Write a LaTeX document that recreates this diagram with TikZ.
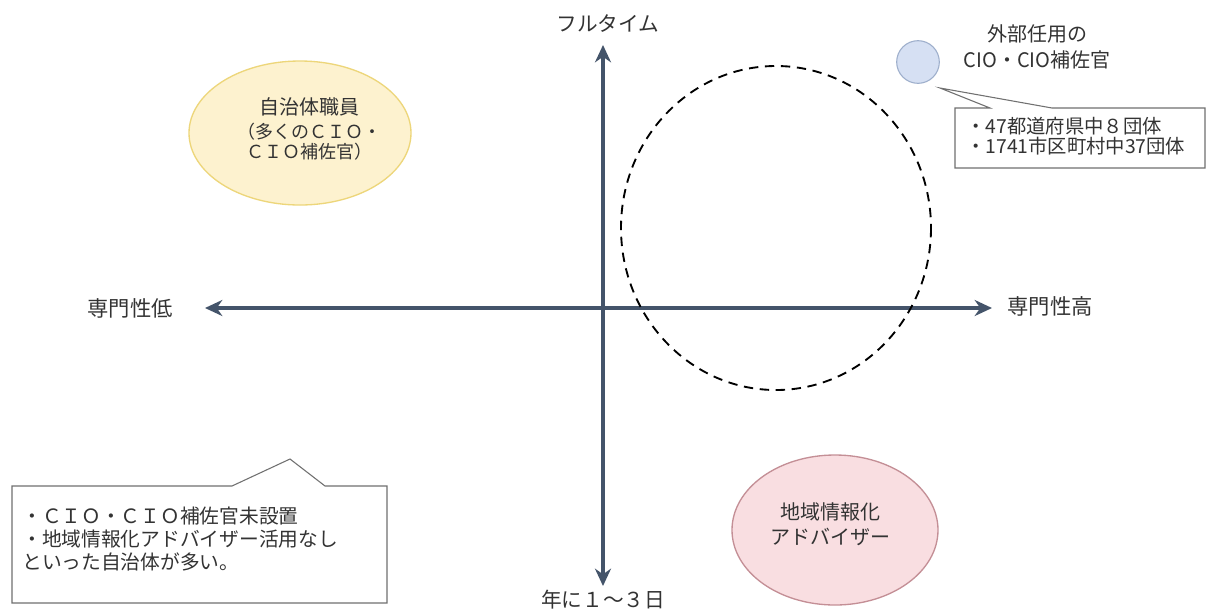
\documentclass[tikz,border=0pt]{standalone}
\usepackage{fontspec}
\setmainfont{Noto Sans CJK JP}
\usetikzlibrary{arrows.meta}
\definecolor{axis}{HTML}{44546A}
\definecolor{txt}{HTML}{333333}
\definecolor{yfill}{HTML}{FDF2CF}
\definecolor{ydraw}{HTML}{EDD67A}
\definecolor{pfill}{HTML}{F9DEE1}
\definecolor{pdraw}{HTML}{C48F96}
\definecolor{bfill}{HTML}{D6E0F3}
\definecolor{bdraw}{HTML}{9DAECB}
\definecolor{boxdraw}{HTML}{707070}
\tikzset{
  axisline/.style={draw=axis, line width=2.6pt, {Stealth[length=13pt,width=12pt]}-{Stealth[length=13pt,width=12pt]}},
  lbl/.style={text=txt, font=\fontsize{15.5pt}{18pt}\selectfont, inner sep=0pt},
  boxtxt/.style={text=txt, font=\fontsize{14.8pt}{17pt}\selectfont, align=left, inner sep=0pt, anchor=west},
  callout/.style={draw=boxdraw, line width=0.8pt, fill=white},
}
\begin{document}
\begin{tikzpicture}[x=0.75pt,y=-0.75pt]
\useasboundingbox (0,0) rectangle (1208,612);
\fill[white] (0,0) rectangle (1208,612);
% axes
\coordinate (top) at (603,45);
\coordinate (bot) at (603,586);
\coordinate (lft) at (205,308);
\coordinate (rgt) at (992,308);
\draw[axisline] (bot) -- (top);
\draw[axisline] (lft) -- (rgt);
\node[lbl] (ft) at (608,24) {フルタイム};
\node[lbl] (yr) at (603,600) {年に１～３日};
\node[lbl, font=\fontsize{16pt}{18pt}\selectfont] (low) at (130,308) {専門性低};
\node[lbl, font=\fontsize{16pt}{18pt}\selectfont] (high) at (1050,306) {専門性高};
% dashed circle
\draw[black, line width=1.4pt, dash pattern=on 7pt off 5pt] (776,228) ellipse [x radius=155, y radius=162];
% yellow ellipse
\draw[draw=ydraw, fill=yfill, line width=1pt] (300,133) ellipse [x radius=111, y radius=72];
\node[lbl, font=\fontsize{15pt}{18pt}\selectfont] (jich) at (309,107) {自治体職員};
\node[lbl, align=center, font=\fontsize{13.5pt}{15pt}\selectfont] (jich2) at (309,142) {（多くのＣＩＯ・\\ＣＩＯ補佐官）};
% pink ellipse
\draw[draw=pdraw, fill=pfill, line width=1pt] (835,530) ellipse [x radius=103, y radius=75];
\node[lbl, align=center, font=\fontsize{15pt}{19pt}\selectfont] (adv) at (830,524) {地域情報化\\アドバイザー};
% blue circle
\node[circle, draw=bdraw, fill=bfill, line width=0.8pt, minimum size=32pt, inner sep=0pt] (bc) at (918,62) {};
\node[lbl, align=center, font=\fontsize{15pt}{19pt}\selectfont] (ext) at (1037,47) {外部任用の\\CIO・CIO補佐官};
% top-right callout
\coordinate (tip1) at (940,88);
\draw[callout] (955,108) -- (990,108) -- (tip1) -- (1052,108) -- (1205,108) -- (1205,168) -- (955,168) -- cycle;
\node[boxtxt, font=\fontsize{14.5pt}{15pt}\selectfont] (b1) at (966,136) {・47都道府県中８団体\\・1741市区町村中37団体};
% bottom-left callout
\coordinate (tip2) at (290,459);
\draw[callout] (12,486) -- (232,486) -- (tip2) -- (325,486) -- (387,486) -- (387,603) -- (12,603) -- cycle;
\node[boxtxt] (b2) at (22,539) {・ＣＩＯ・ＣＩＯ補佐官未設置\\・地域情報化アドバイザー活用なし\\といった自治体が多い。};
\end{tikzpicture}
\end{document}
